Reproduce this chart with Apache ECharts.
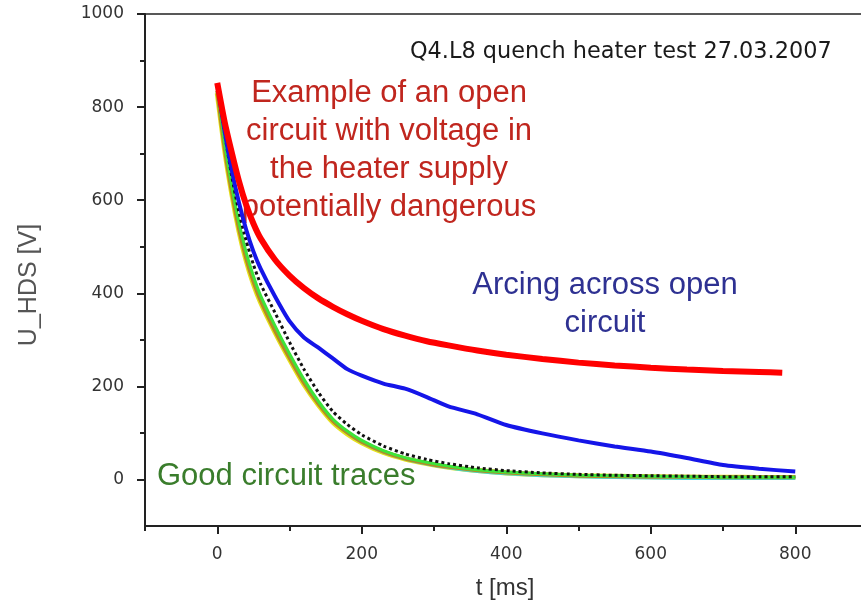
<!DOCTYPE html>
<html>
<head>
<meta charset="utf-8">
<script src="https://cdn.jsdelivr.net/npm/echarts@6/dist/echarts.min.js"></script>
<style>
  html, body { margin: 0; padding: 0; background: #fff; }
  #chart { width: 861px; height: 603px; }
</style>
</head>
<body>
<div id="chart"></div>
<script>
// time axis of the traces [ms]
const tGood = [0, 10, 20, 30, 40, 50, 60, 80, 100, 120, 140, 160, 180, 200, 230, 260, 290, 320, 360, 400, 450, 500, 550, 600, 650, 700, 750, 800];
const tOpen = [0, 10, 20, 30, 40, 50, 60, 80, 100, 120, 140, 160, 180, 200, 230, 260, 290, 320, 360, 400, 450, 500, 550, 600, 650, 700, 750, 782];

// U_HDS [V]
const openCircuit = [852, 770, 703, 641, 590, 550, 518, 472, 438, 411, 389, 371, 355, 341, 323, 309, 297, 288, 277, 268, 259, 251, 245, 240, 236, 233, 231, 229];
const arcing = [850, 750, 665, 595, 537, 490, 453, 393, 340, 305, 283, 260, 237, 223, 206, 195, 177, 157, 140, 117, 99, 84, 71, 60, 46, 31, 23, 17];
const goodBlack = [850, 745, 652, 575, 513, 462, 420, 358, 295, 237, 187, 146, 118, 96, 72, 55, 43, 34, 25, 19, 14, 11, 9, 8, 7, 6, 6, 6];
const goodGreen = [845, 725, 632, 552, 488, 437, 395, 330, 270, 215, 168, 130, 104, 84, 62, 47, 37, 29, 21, 16, 12, 9, 8, 7, 6, 5, 5, 5];
const goodYellow = [830, 710, 614, 534, 470, 420, 380, 316, 258, 204, 160, 123, 98, 79, 58, 44, 34, 26, 19, 14, 10, 8, 7, 6, 5, 5, 4, 4];
const goodOlive = [835, 715, 620, 540, 476, 426, 385, 320, 262, 208, 163, 126, 101, 81, 60, 45, 35, 27, 20, 15, 11, 8, 7, 6, 6, 5, 5, 5];
const goodCyan = [840, 720, 624, 542, 478, 428, 388, 324, 265, 210, 164, 127, 100, 80, 59, 44, 33, 25, 17, 12, 8, 6, 4, 3, 2, 2, 2, 2];

// ticks
const xMajor = [0, 200, 400, 600, 800];
const xMinor = [-100, 100, 300, 500, 700];
const yMajor = [0, 200, 400, 600, 800, 1000];
const yMinor = [100, 300, 500, 700, 900];

const pairs = (ts, vs) => ts.map((t, i) => [t, vs[i]]);

const tickFont = { color: '#333', fontFamily: 'DejaVu Sans', fontSize: 17, formatter: v => String(v) };
const axisColor = '#222';

function traceSeries(name, ts, vs, color, width, type, z) {
  return {
    name: name,
    type: 'line',
    data: pairs(ts, vs),
    smooth: 0.2,
    showSymbol: false,
    symbol: 'none',
    z: z,
    lineStyle: { color: color, width: width, type: type || 'solid' }
  };
}

const chart = echarts.init(document.getElementById('chart'));
chart.setOption({
  animation: false,
  backgroundColor: '#fff',
  grid: { left: 145, right: 0, top: 14, bottom: 77 },
  xAxis: [
    {
      type: 'value', min: -100, max: 891, position: 'bottom',
      axisLine: { show: true, onZero: false, lineStyle: { color: axisColor, width: 2 } },
      axisTick: { show: true, customValues: xMajor, length: 8, lineStyle: { color: axisColor, width: 2 } },
      axisLabel: Object.assign({ customValues: xMajor, margin: 20 }, tickFont),
      splitLine: { show: false }
    },
    {
      type: 'value', min: -100, max: 891, position: 'bottom',
      axisLine: { show: false, onZero: false },
      axisTick: { show: true, customValues: xMinor, length: 5, lineStyle: { color: axisColor, width: 2 } },
      axisLabel: { show: false },
      splitLine: { show: false }
    },
    {
      type: 'value', min: -100, max: 891, position: 'top',
      axisLine: { show: true, onZero: false, lineStyle: { color: axisColor, width: 1.5 } },
      axisTick: { show: false },
      axisLabel: { show: false },
      splitLine: { show: false }
    }
  ],
  yAxis: [
    {
      type: 'value', min: -100, max: 1000, position: 'left',
      axisLine: { show: true, onZero: false, lineStyle: { color: axisColor, width: 2 } },
      axisTick: { show: true, customValues: yMajor, length: 8, lineStyle: { color: axisColor, width: 2 } },
      axisLabel: Object.assign({ customValues: yMajor, margin: 21 }, tickFont),
      splitLine: { show: false }
    },
    {
      type: 'value', min: -100, max: 1000, position: 'left',
      axisLine: { show: false, onZero: false },
      axisTick: { show: true, customValues: yMinor, length: 5, lineStyle: { color: axisColor, width: 2 } },
      axisLabel: { show: false },
      splitLine: { show: false }
    }
  ],
  graphic: [
    {
      type: 'text', x: 410, y: 52, z: 1,
      style: { text: 'Q4.L8 quench heater test 27.03.2007', fill: '#1a1a1a', font: '22.4px "DejaVu Sans"', textVerticalAlign: 'middle' }
    },
    {
      type: 'text', x: 389, y: 150, z: 1,
      style: {
        text: 'Example of an open\ncircuit with voltage in\nthe heater supply\npotentially dangerous',
        fill: '#c0261e', font: '31px "Liberation Sans", Arial', lineHeight: 38,
        textAlign: 'center', textVerticalAlign: 'middle'
      }
    },
    {
      type: 'text', x: 605, y: 304, z: 1,
      style: {
        text: 'Arcing across open\ncircuit',
        fill: '#2e3192', font: '31px "Liberation Sans", Arial', lineHeight: 38,
        textAlign: 'center', textVerticalAlign: 'middle'
      }
    },
    {
      type: 'text', x: 157, y: 476, z: 1,
      style: { text: 'Good circuit traces', fill: '#3a7d2c', font: '31px "Liberation Sans", Arial', textVerticalAlign: 'middle' }
    },
    {
      type: 'text', x: 505, y: 588,
      style: { text: 't [ms]', fill: '#333', font: '24px "Liberation Sans", Arial', textAlign: 'center', textVerticalAlign: 'middle' }
    },
    {
      type: 'text', x: 29, y: 285, rotation: Math.PI / 2,
      style: { text: 'U_HDS [V]', fill: '#555', font: '25px "Liberation Sans", Arial', textAlign: 'center', textVerticalAlign: 'middle' }
    }
  ],
  series: [
    traceSeries('Good yellow', tGood, goodYellow, '#e6e21a', 5, 'solid', 3),
    traceSeries('Good cyan', tGood, goodCyan, '#3fd8e0', 3, 'solid', 3),
    traceSeries('Good olive', tGood, goodOlive, '#b58a24', 4, 'solid', 4),
    traceSeries('Good green', tGood, goodGreen, '#3ee43a', 3, 'solid', 5),
    traceSeries('Good black', tGood, goodBlack, '#111', 3, 'dotted', 6),
    traceSeries('Arcing', tGood, arcing, '#1515e8', 4, 'solid', 7),
    traceSeries('Open circuit', tOpen, openCircuit, '#ff0000', 6, 'solid', 8)
  ]
});
</script>
</body>
</html>
